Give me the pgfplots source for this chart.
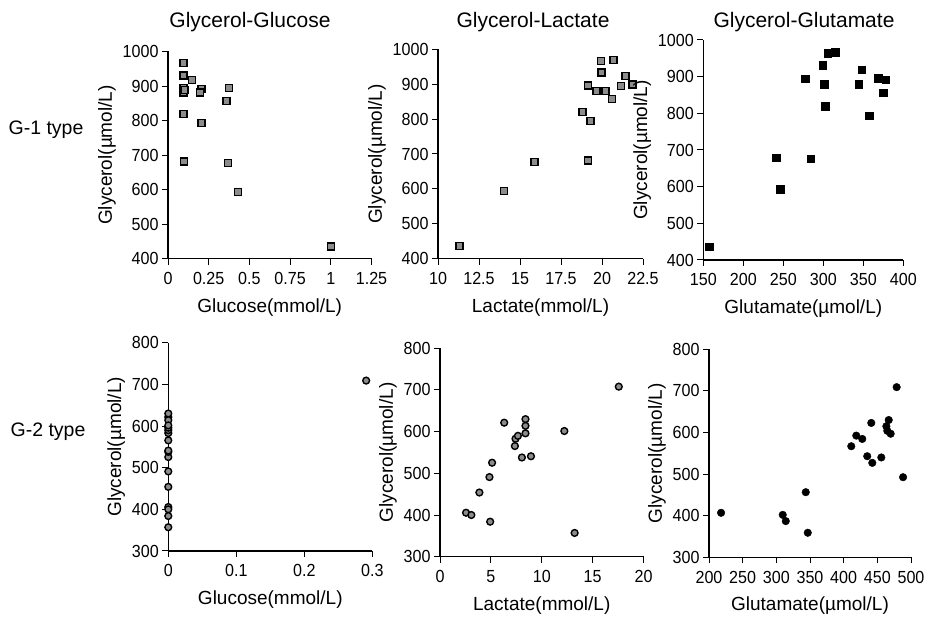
\documentclass[border=0pt]{standalone}
\usepackage{fontspec}
\setmainfont{Liberation Sans}
\newfontfamily\condfont{Liberation Sans}[FakeStretch=0.92]
\usepackage{pgfplots}
\pgfplotsset{compat=1.18}
\definecolor{mfill}{gray}{0.55}
\pgfplotsset{
  panel/.style={
    scale only axis, anchor=south west,
    axis lines=left, axis line style={-, line width=1.1pt},
    tick align=outside, major tick length=6pt,
    every tick/.style={black, line width=1pt},
    enlargelimits=false, clip=false,
    tick label style={font=\condfont\fontsize{17.5}{20}\selectfont},
    label style={font=\fontsize{19}{22}\selectfont},
    xticklabel shift=4pt,
    xlabel shift=7pt,
  },
  sqg/.style={only marks, mark=square*, mark size=3.5pt, mark options={fill=mfill, draw=black, line width=1.5pt}},
  sqb/.style={only marks, mark=square*, mark size=3.8pt, mark options={fill=black, draw=black}},
  cig/.style={only marks, mark=*, mark size=3.4pt, mark options={fill=mfill, draw=black, line width=1.4pt}},
  cib/.style={only marks, mark=*, mark size=3.8pt, mark options={fill=black, draw=black}},
}
\begin{document}
\begin{tikzpicture}[x=1pt,y=1pt]
\useasboundingbox (0,0) rectangle (934,617);
% titles and row labels
\node[font=\fontsize{21}{24}\selectfont] at (250,595) {Glycerol-Glucose};
\node[font=\fontsize{21}{24}\selectfont] at (533,595) {Glycerol-Lactate};
\node[font=\fontsize{21}{24}\selectfont] at (804,595) {Glycerol-Glutamate};
\node[font=\fontsize{19.5}{22}\selectfont] at (46,487) {G-1 type};
\node[font=\fontsize{19.5}{22}\selectfont] at (48,185) {G-2 type};

% ---------- G-1 Glucose
\begin{axis}[panel, at={(168pt,358.3pt)}, width=203.5pt, height=207.2pt,
  xmin=0, xmax=1.25, ymin=400, ymax=1000,
  xtick={0,0.25,0.5,0.75,1,1.25}, xticklabels={0,0.25,0.5,0.75,1,1.25},
  ytick={400,500,...,1000}, yticklabels={400,500,600,700,800,900,1000},
  xlabel={Glucose(mmol/L)}, ylabel={Glycerol(µmol/L)}]
\addplot[sqg] coordinates {
(0.094,966) (0.094,931) (0.146,918) (0.094,895) (0.094,881) (0.207,892)
(0.197,881) (0.376,895) (0.360,857) (0.094,819) (0.207,793) (0.098,681)
(0.367,677) (0.430,593) (1.000,435) (0.100,888)};
\end{axis}

% ---------- G-1 Lactate
\begin{axis}[panel, at={(438pt,358.3pt)}, width=205pt, height=209.4pt,
  xmin=10, xmax=22.5, ymin=400, ymax=1000,
  xtick={10,12.5,15,17.5,20,22.5}, xticklabels={10,12.5,15,17.5,20,22.5},
  ytick={400,500,...,1000}, yticklabels={400,500,600,700,800,900,1000},
  xlabel={Lactate(mmol/L)}, ylabel={Glycerol(µmol/L)}]
\addplot[sqg] coordinates {
(11.3,436) (14.02,594) (15.89,677) (18.8,821) (19.15,896) (19.3,795)
(19.15,681) (19.66,881) (19.94,966) (19.96,933) (20.2,881) (20.6,858)
(20.7,969) (21.44,923) (21.16,895) (21.87,899)};
\end{axis}

% ---------- G-1 Glutamate
\begin{axis}[panel, at={(703.3pt,357pt)}, width=200pt, height=220pt,
  xmin=150, xmax=400, ymin=400, ymax=1000,
  xtick={150,200,...,400}, xticklabels={150,200,250,300,350,400},
  ytick={400,500,...,1000}, yticklabels={400,500,600,700,800,900,1000},
  xlabel={Glutamate(µmol/L)}, ylabel={Glycerol(µmol/L)}]
\addplot[sqb] coordinates {
(157.5,436) (240.9,679) (245.9,593) (277.1,894) (284.2,676) (299.2,931)
(300.9,879) (302.1,819) (305.4,964) (314.6,966) (344.2,880) (347.9,919)
(357.1,793) (368.4,895) (374.6,856) (378,892)};
\end{axis}

% ---------- G-2 Glucose
\begin{axis}[panel, at={(168.3pt,66pt)}, width=204pt, height=208.3pt,
  xmin=0, xmax=0.3, ymin=300, ymax=800,
  xtick={0,0.1,0.2,0.3}, xticklabels={0,0.1,0.2,0.3},
  ytick={300,400,...,800}, yticklabels={300,400,500,600,700,800},
  xlabel={Glucose(mmol/L)}, ylabel={Glycerol(µmol/L)}]
\addplot[cig] coordinates {
(0,405.5) (0,400) (0,454) (0,491) (0,384) (0,525.5) (0,621.5) (0,565.5)
(0,583) (0,590) (0,538) (0,630) (0,614) (0,596) (0,541) (0,601.5) (0,357)
(0.291,709)};
\end{axis}

% ---------- G-2 Lactate
\begin{axis}[panel, at={(440pt,60.3pt)}, width=203.5pt, height=208.4pt,
  xmin=0, xmax=20, ymin=300, ymax=800,
  xtick={0,5,10,15,20}, xticklabels={0,5,10,15,20},
  ytick={300,400,...,800}, yticklabels={300,400,500,600,700,800},
  xlabel={Lactate(mmol/L)}, ylabel={Glycerol(µmol/L)}]
\addplot[cig] coordinates {
(2.56,405.5) (3.08,400) (3.87,454) (4.86,491) (4.93,384) (5.12,525.5)
(6.31,621.5) (7.36,565.5) (7.42,583) (7.66,590) (8.05,538) (8.40,630)
(8.40,614) (8.40,596) (8.94,541) (12.22,601.5) (13.23,357) (17.57,708)};
\end{axis}

% ---------- G-2 Glutamate
\begin{axis}[panel, at={(709pt,59.7pt)}, width=202pt, height=208pt,
  xmin=200, xmax=500, ymin=300, ymax=800,
  xtick={200,250,...,500}, xticklabels={200,250,300,350,400,450,500},
  ytick={300,400,...,800}, yticklabels={300,400,500,600,700,800},
  xlabel={Glutamate(µmol/L)}, ylabel={Glycerol(µmol/L)}]
\addplot[cib] coordinates {
(217.9,407) (309.5,402) (314,387) (343.7,456.5) (346.7,359) (411.3,567)
(418.7,592.5) (427.6,584.5) (435,543) (441,623) (442.5,527) (455.9,540)
(463.4,615) (466.9,630) (464.8,604) (469.8,597) (478.7,709) (488.2,492.5)};
\end{axis}
\end{tikzpicture}
\end{document}
